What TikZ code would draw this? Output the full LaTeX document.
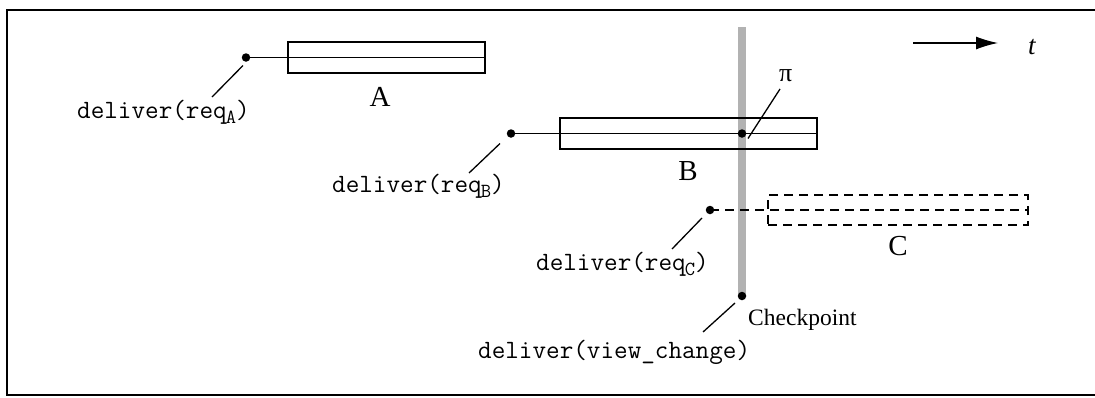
\documentclass[tikz,border=0pt]{standalone}
\usepackage{fontspec}
\setmainfont{Liberation Serif}
\usetikzlibrary{arrows.meta}
\newcommand{\evsub}[1]{\raisebox{-5pt}{\kern-1pt\fontsize{20}{20}\selectfont\ttfamily #1}}
\begin{document}
\begin{tikzpicture}[x=1pt,y=-1pt,
  seg/.style={draw,line width=1.3pt},
  msgbox/.style={draw,line width=1.3pt,rectangle,inner sep=0pt},
  evdot/.style={circle,fill=black,inner sep=0pt,minimum size=8.5pt},
  lead/.style={draw,line width=1.3pt},
  evtext/.style={inner sep=0pt,anchor=base west,font=\fontsize{26.4}{26.4}\selectfont\ttfamily},
  boxname/.style={inner sep=0pt,anchor=base,font=\fontsize{29}{29}\selectfont},
  plain/.style={inner sep=0pt,anchor=base west,font=\fontsize{23.5}{23.5}\selectfont}]
\useasboundingbox (0,0) rectangle (1095,397);
% frame
\draw[line width=2.2pt] (1100,10) -- (7,10) -- (7,395) -- (1100,395);

% time arrow
\coordinate (t0) at (913,43);
\coordinate (t1) at (998,43);
\draw[line width=1.3pt,-{Latex[length=22pt,width=13pt]}] (t0) -- (t1);
\node[plain,font=\fontsize{27}{27}\selectfont\itshape] (tlab) at (1028,54) {t};

% checkpoint line
\coordinate (cptop) at (742,27);
\coordinate (cpbot) at (742,296);
\draw[line width=8pt,gray!60] (cptop) -- (cpbot);
\node[evdot] (cp) at (cpbot) {};

% message A
\node[msgbox,minimum width=197pt,minimum height=31pt] (boxA) at (386.5,57.5) {};
\node[evdot] (dA) at (246,57.5) {};
\draw[seg] (dA.center) -- (boxA.east);
\node[boxname] (lA) at (380,106) {A};
\node[evtext] (eA) at (77,118) {deliver(req\evsub{A})};
\coordinate (qA) at (212,97);
\draw[lead] ([shift={(-3pt,-8pt)}]dA.center) -- (qA);

% message B
\node[msgbox,minimum width=257pt,minimum height=31pt] (boxB) at (688.5,133.5) {};
\node[evdot] (dB) at (511,133.5) {};
\draw[seg] (dB.center) -- (boxB.east);
\node[evdot] (pi) at (742,133.5) {};
\node[boxname] (lB) at (688,180) {B};
\node[evtext] (eB) at (332,192) {deliver(req\evsub{B})};
\coordinate (qB) at (469,173);
\draw[lead] ([shift={(-11pt,-10pt)}]dB.center) -- (qB);
\node[plain,font=\fontsize{26}{26}\selectfont] (lpi) at (779,81) {π};
\coordinate (qpi) at (780,89);
\draw[lead] ([shift={(6pt,-5pt)}]pi.center) -- (qpi);

% message C (dashed)
\node[msgbox,dash pattern=on 9pt off 6pt,minimum width=260pt,minimum height=30pt] (boxC) at (898,210) {};
\node[evdot] (dC) at (710,210) {};
\draw[seg,dash pattern=on 9pt off 6pt] (dC.center) -- (boxC.east);
\node[boxname] (lC) at (898,255) {C};
\node[evtext] (eC) at (536,270) {deliver(req\evsub{C})};
\coordinate (qC) at (672,249);
\draw[lead] ([shift={(-8pt,-8pt)}]dC.center) -- (qC);

% checkpoint labels
\node[plain] (lcp) at (748,325) {Checkpoint};
\node[evtext] (ecp) at (478,358) {deliver(view\_change)};
\coordinate (qcp) at (703,332);
\draw[lead] ([shift={(-7pt,-7pt)}]cp.center) -- (qcp);
\end{tikzpicture}
\end{document}
